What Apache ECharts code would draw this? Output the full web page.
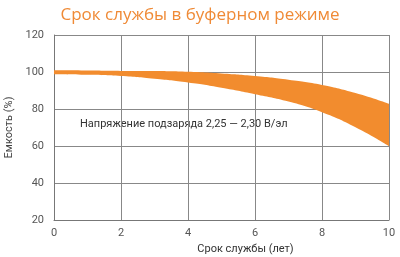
<!DOCTYPE html>
<html>
<head>
<meta charset="utf-8">
<script src="https://cdn.jsdelivr.net/npm/echarts@6/dist/echarts.min.js"></script>
<style>
  html, body { margin: 0; padding: 0; background: #fff; }
  #chart { width: 400px; height: 257px; }
</style>
</head>
<body>
<div id="chart"></div>
<script>
// service life (years) vs capacity band
const years = ['0', '1', '2', '3', '4', '5', '6', '7', '8', '9', '10']
const upperCap = [100.9, 100.8, 100.6, 100.5, 100.1, 99.2, 97.8, 95.8, 93.0, 88.6, 82.8]
const lowerCap = [98.8, 98.5, 97.8, 96.3, 94.3, 91.5, 88, 84, 78.3, 70.2, 60]
const yTicks = [20, 40, 60, 80, 100, 120]
const noteText = 'Напряжение подзаряда 2,25 — 2,30 В/эл'

const orange = '#f28c2e'
const font = 'Roboto'

const chart = echarts.init(document.getElementById('chart'))

const bandWidth = upperCap.map((u, i) => +(u - lowerCap[i]).toFixed(2))

chart.setOption({
    animation: false,
    title: {
        text: 'Срок службы в буферном режиме',
        left: 'center',
        top: 2,
        textStyle: { color: '#ef8a36', fontSize: 17, fontWeight: 'normal', fontFamily: 'Open Sans' },
    },
    grid: { left: 54, right: 11, top: 35, bottom: 37, outerBoundsMode: 'none' },
    xAxis: {
        type: 'category',
        data: years,
        boundaryGap: false,
        name: 'Срок службы (лет)',
        nameLocation: 'middle',
        nameGap: 21,
        nameTextStyle: { color: '#333', fontSize: 11, fontFamily: font, padding: [0, 0, 0, 48] },
        axisLine: { lineStyle: { color: '#777' } },
        axisTick: { show: false },
        axisLabel: { color: '#555', fontSize: 11, fontFamily: font, margin: 8, interval: 1 },
        splitLine: { show: true, interval: 1, lineStyle: { color: '#888', width: 1 } },
    },
    yAxis: {
        type: 'value',
        min: yTicks[0],
        max: yTicks[yTicks.length - 1],
        interval: 20,
        name: 'Емкость (%)',
        nameLocation: 'middle',
        nameGap: 34,
        nameTextStyle: { color: '#444', fontSize: 11, fontFamily: font },
        axisLine: { show: true, lineStyle: { color: '#777' } },
        axisTick: { show: false },
        axisLabel: { color: '#555', fontSize: 11, fontFamily: font, margin: 10 },
        splitLine: { show: true, lineStyle: { color: '#888', width: 1 } },
    },
    graphic: [
        {
            type: 'text',
            left: 80,
            top: 119,
            style: { text: noteText, fill: '#333', font: '11px Roboto' },
        },
    ],
    series: [
        {
            type: 'line',
            stack: 'band',
            data: lowerCap,
            smooth: true,
            symbol: 'none',
            lineStyle: { opacity: 0 },
        },
        {
            type: 'line',
            stack: 'band',
            data: bandWidth,
            smooth: true,
            symbol: 'none',
            lineStyle: { opacity: 0 },
            areaStyle: { color: orange, opacity: 1 },
        },
    ],
})
</script>
</body>
</html>
